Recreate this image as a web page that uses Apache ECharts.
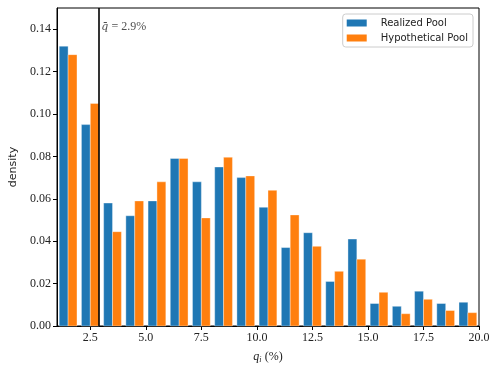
<!DOCTYPE html>
<html style="height: 100%">
<head>
    <meta charset="utf-8">
    <script src="https://cdn.jsdelivr.net/npm/echarts@6/dist/echarts.min.js"></script>
</head>
<body style="height: 100%; margin: 0; background: #fff;">
<div id="container" style="width: 498px; height: 370px;"></div>
<script type="text/javascript">
    // bin edges (%) and density per bin
    var binEdges = [1, 2, 3, 4, 5, 6, 7, 8, 9, 10, 11, 12, 13, 14, 15, 16, 17, 18, 19, 20];
    var realized = [0.132, 0.095, 0.058, 0.052, 0.059, 0.079, 0.068, 0.075, 0.070, 0.056,
                    0.037, 0.044, 0.021, 0.041, 0.0106, 0.0093, 0.0164, 0.0106, 0.0112];
    var hypothetical = [0.128, 0.105, 0.0445, 0.059, 0.068, 0.079, 0.051, 0.0796, 0.0708, 0.064,
                        0.0524, 0.0376, 0.0258, 0.0315, 0.0159, 0.0058, 0.0126, 0.0073, 0.0063];
    var xTicks = [2.5, 5.0, 7.5, 10.0, 12.5, 15.0, 17.5, 20.0];
    var yTicks = [0, 0.02, 0.04, 0.06, 0.08, 0.10, 0.12, 0.14];
    var qMean = 2.9;

    var serif = 'Liberation Serif';
    var sans = 'DejaVu Sans';

    function binData(vals) {
        return vals.map(function (v, i) { return [binEdges[i], binEdges[i + 1], v]; });
    }

    // slot 0 = left half, slot 1 = right half of the 80% wide group
    function makeRender(slot) {
        return function (params, api) {
            var lo = api.value(0), hi = api.value(1), w = hi - lo;
            var x0 = lo + w * (0.1 + 0.4 * slot);
            var x1 = x0 + w * 0.4;
            var p0 = api.coord([x0, api.value(2)]);
            var p1 = api.coord([x1, 0]);
            return {
                type: 'rect',
                shape: { x: p0[0], y: p0[1], width: p1[0] - p0[0], height: p1[1] - p0[1] },
                style: api.style({ stroke: 'rgba(255,255,255,0.6)', lineWidth: 0.6 })
            };
        };
    }

    var myChart = echarts.init(document.getElementById('container'));
    var option = {
        animation: false,
        grid: {
            left: 53, right: 19, top: 8, bottom: 44,
            show: true, borderColor: '#000', borderWidth: 1
        },
        legend: {
            right: 25, top: 14,
            orient: 'vertical',
            itemWidth: 20, itemHeight: 7, itemGap: 5,
            padding: [4, 5, 4, 4],
            borderColor: '#ccc', borderWidth: 1, borderRadius: 3,
            textStyle: { fontFamily: sans, fontSize: 10, color: '#222', padding: [0, 0, 0, 9] },
            data: [
                { name: 'Realized Pool', icon: 'rect' },
                { name: 'Hypothetical Pool', icon: 'rect' }
            ]
        },
        xAxis: {
            type: 'value',
            min: 1, max: 20,
            splitLine: { show: false },
            axisLine: { lineStyle: { color: '#000' } },
            axisTick: { length: 4, lineStyle: { color: '#000' }, customValues: xTicks },
            axisLabel: {
                customValues: xTicks,
                fontFamily: serif, fontSize: 12, color: '#222', margin: 6,
                formatter: function (v) { return v.toFixed(1); }
            },
            name: '{q|q}{i|i} {t|(%)}',
            nameLocation: 'middle',
            nameGap: 24,
            nameTextStyle: {
                rich: {
                    q: { fontFamily: serif, fontStyle: 'italic', fontSize: 12, color: '#222' },
                    i: { fontFamily: serif, fontStyle: 'italic', fontSize: 8, color: '#222', verticalAlign: 'bottom', padding: [6, 0, 0, 0] },
                    t: { fontFamily: serif, fontSize: 12, color: '#222' }
                }
            }
        },
        yAxis: {
            type: 'value',
            min: 0, max: 0.15,
            splitLine: { show: false },
            axisLine: { show: true, lineStyle: { color: '#000' } },
            axisTick: { show: true, length: 4, lineStyle: { color: '#000' }, customValues: yTicks },
            axisLabel: {
                customValues: yTicks,
                fontFamily: serif, fontSize: 12, color: '#222', margin: 6,
                formatter: function (v) { return v.toFixed(2); }
            },
            name: 'density',
            nameLocation: 'middle',
            nameGap: 38,
            nameTextStyle: { fontFamily: sans, fontSize: 11, color: '#222' }
        },
        series: [
            {
                name: 'Realized Pool',
                type: 'custom',
                itemStyle: { color: '#1f77b4' },
                renderItem: makeRender(0),
                encode: { x: [0, 1], y: 2 },
                data: binData(realized)
            },
            {
                name: 'Hypothetical Pool',
                type: 'custom',
                itemStyle: { color: '#ff7f0e' },
                renderItem: makeRender(1),
                encode: { x: [0, 1], y: 2 },
                data: binData(hypothetical)
            },
            {
                name: 'mean',
                type: 'scatter',
                symbolSize: 0,
                silent: true,
                z: 5,
                label: {
                    show: true,
                    position: 'right',
                    distance: 2,
                    formatter: '{q|q\u0304} {t|= ' + qMean.toFixed(1) + '%}',
                    rich: {
                        q: { fontFamily: 'DejaVu Serif', fontStyle: 'italic', fontSize: 11, color: '#222' },
                        t: { fontFamily: serif, fontSize: 12, color: '#222' }
                    }
                },
                data: [[qMean, 0.141]],
                markLine: {
                    silent: true,
                    symbol: 'none',
                    label: { show: false },
                    lineStyle: { color: '#000', width: 1.6, type: 'solid' },
                    data: [{ xAxis: qMean }]
                }
            }
        ]
    };
    myChart.setOption(option);
</script>
</body>
</html>
